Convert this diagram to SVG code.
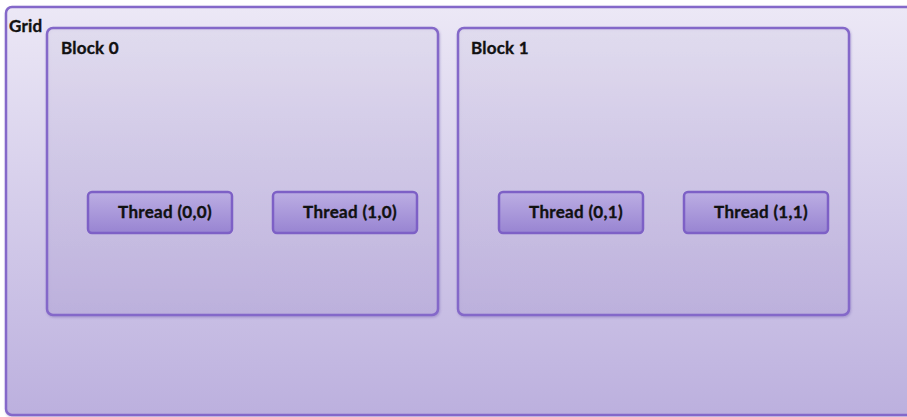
<svg xmlns="http://www.w3.org/2000/svg" width="907" height="417" viewBox="0 0 907 417">
  <defs>
    <linearGradient id="gridFill" x1="0" y1="0" x2="0" y2="1">
      <stop offset="0" stop-color="#ece8f6"/>
      <stop offset="1" stop-color="#bcb0de"/>
    </linearGradient>
    <linearGradient id="blockFill" x1="0" y1="0" x2="0" y2="1">
      <stop offset="0" stop-color="#e8e3f4"/>
      <stop offset="1" stop-color="#bfb2df"/>
    </linearGradient>
    <linearGradient id="threadFill" x1="0" y1="0" x2="0" y2="1">
      <stop offset="0" stop-color="#bcaee3"/>
      <stop offset="1" stop-color="#9884d2"/>
    </linearGradient>
    <filter id="shadow" x="-5%" y="-5%" width="110%" height="115%">
      <feDropShadow dx="0.8" dy="1.2" stdDeviation="0.8" flood-color="#5a3fa0" flood-opacity="0.35"/>
    </filter>
  </defs>
  <style>
    .grid { fill: url(#gridFill); stroke: #8467c9; stroke-width: 2.5; }
    .block { fill: url(#blockFill); fill-opacity: 0.55; stroke: #8467c9; stroke-width: 2.5; }
    .thread { fill: url(#threadFill); stroke: #7d60c6; stroke-width: 2.5; }
    text { font-family: "Lato", "Open Sans", sans-serif; font-weight: bold; fill: #111; stroke: #111; stroke-width: 0.35; }
    .lbl { font-size: 17px; letter-spacing: 0.2px; }
    .tlbl { font-size: 17px; letter-spacing: 0.3px; text-anchor: middle; }
  </style>

  <g id="grid">
    <rect class="grid" x="6" y="7" width="920" height="408" rx="6" filter="url(#shadow)"/>
    <text class="lbl" x="9" y="32">Grid</text>
  </g>

  <g id="block0">
    <rect class="block" x="47" y="28" width="391" height="287" rx="6" filter="url(#shadow)"/>
    <text class="lbl" x="61" y="54">Block 0</text>
  </g>

  <g id="block1">
    <rect class="block" x="458" y="28" width="391" height="287" rx="6" filter="url(#shadow)"/>
    <text class="lbl" x="471" y="54">Block 1</text>
  </g>

  <g id="thread00">
    <rect class="thread" x="88" y="192" width="144" height="41" rx="4"/>
    <text class="tlbl" x="165" y="218">Thread (0,0)</text>
  </g>
  <g id="thread10">
    <rect class="thread" x="273" y="192" width="144" height="41" rx="4"/>
    <text class="tlbl" x="350" y="218">Thread (1,0)</text>
  </g>
  <g id="thread01">
    <rect class="thread" x="499" y="192" width="144" height="41" rx="4"/>
    <text class="tlbl" x="576" y="218">Thread (0,1)</text>
  </g>
  <g id="thread11">
    <rect class="thread" x="684" y="192" width="144" height="41" rx="4"/>
    <text class="tlbl" x="761" y="218">Thread (1,1)</text>
  </g>

  <g id="connectors"/>
</svg>
